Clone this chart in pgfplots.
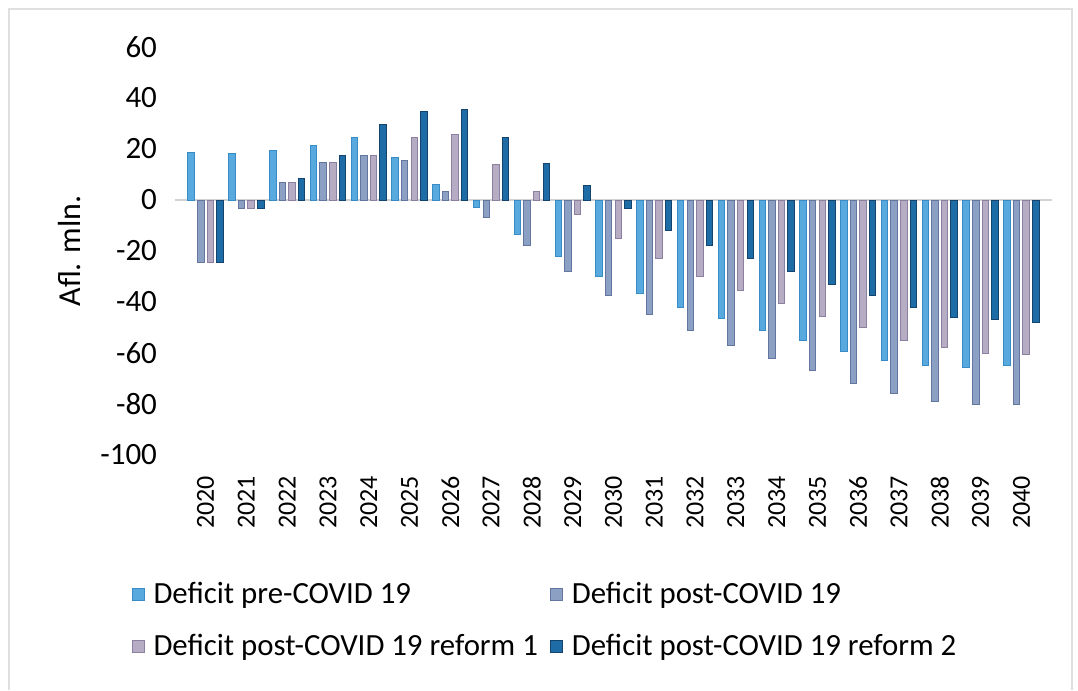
\documentclass[border=0pt]{standalone}
\usepackage{fontspec}
\setmainfont{Carlito}
\usepackage{pgfplots}
\pgfplotsset{compat=1.18}
\definecolor{preF}{RGB}{88,170,222}
\definecolor{preD}{RGB}{55,140,200}
\definecolor{postF}{RGB}{140,160,196}
\definecolor{postD}{RGB}{100,118,160}
\definecolor{roneF}{RGB}{182,172,196}
\definecolor{roneD}{RGB}{140,128,160}
\definecolor{rtwoF}{RGB}{30,108,165}
\definecolor{rtwoD}{RGB}{20,68,110}
\begin{document}
\begin{tikzpicture}
\begin{axis}[
  name=ax,
  width=438.5pt, height=204pt, scale only axis,
  ybar=1.55pt, bar width=3.25pt,
  xmin=-0.75, xmax=20.75, ymin=-100, ymax=60,
  ytick={-100,-80,...,60},
  xtick={0,...,20},
  xticklabels={2020,2021,2022,2023,2024,2025,2026,2027,2028,2029,2030,2031,2032,2033,2034,2035,2036,2037,2038,2039,2040},
  axis line style={draw=none},
  major tick length=0pt,
  /pgf/number format/assume math mode=true,
  yticklabel style={font=\fontsize{15.5}{18}\selectfont, xshift=-5.5pt},
  xticklabel style={font=\fontsize{13}{15}\selectfont, rotate=90, anchor=east, xshift=-7pt},
  ylabel={Afl. mln.},
  ylabel style={at={(axis description cs:-0.12,0.5)}, anchor=center, font=\fontsize{16}{18}\selectfont},
  extra y ticks={0}, extra y tick labels={},
  extra y tick style={grid=major, major grid style={draw=gray!35, line width=0.8pt}},
  legend columns=2,
  legend cell align=left,
  legend style={draw=none, at={(axis description cs:-0.05,-0.302)}, anchor=north west,
    font=\fontsize{15.4}{18}\selectfont, row sep=9.5pt, inner sep=0pt,
    /tikz/every odd column/.append style={column sep=2.5pt},
    /tikz/every even column/.append style={column sep=4pt}},
  legend image code/.code={\draw[#1] (0pt,-3pt) rectangle (6pt,3pt);},
]
\addplot[fill=preF, draw=preD, line width=0.5pt] coordinates {
(0,18.8)(1,18.3)(2,19.6)(3,21.5)(4,24.7)(5,16.5)(6,6)(7,-3)(8,-13.5)(9,-22)
(10,-30)(11,-36.5)(12,-42)(13,-46.5)(14,-51)(15,-55)(16,-59.5)(17,-63)(18,-65)(19,-65.5)(20,-65)};
\addplot[fill=postF, draw=postD, line width=0.5pt] coordinates {
(0,-24.5)(1,-3.5)(2,6.7)(3,14.7)(4,17.6)(5,15.3)(6,3.5)(7,-7)(8,-18)(9,-28)
(10,-37.5)(11,-45)(12,-51)(13,-57)(14,-62)(15,-67)(16,-72)(17,-76)(18,-79)(19,-80)(20,-80)};
\addplot[fill=roneF, draw=roneD, line width=0.5pt] coordinates {
(0,-24.5)(1,-3.5)(2,6.7)(3,14.7)(4,17.6)(5,24.7)(6,25.5)(7,14)(8,3.5)(9,-5.5)
(10,-15)(11,-23)(12,-30)(13,-35.5)(14,-40.5)(15,-45.5)(16,-50)(17,-55)(18,-58)(19,-60)(20,-60.5)};
\addplot[fill=rtwoF, draw=rtwoD, line width=0.5pt] coordinates {
(0,-24.5)(1,-3.5)(2,8.6)(3,17.6)(4,29.8)(5,34.9)(6,35.5)(7,24.5)(8,14.5)(9,5.5)
(10,-3.5)(11,-12)(12,-18)(13,-23)(14,-28)(15,-33)(16,-37.5)(17,-42)(18,-46)(19,-47)(20,-48)};
\legend{Deficit pre-COVID 19,Deficit post-COVID 19,Deficit post-COVID 19 reform 1,Deficit post-COVID 19 reform 2}
\end{axis}
\path ([shift={(-87.5pt,227.5pt)}]ax.south west) rectangle ([shift={(451.5pt,-117.5pt)}]ax.south west);
\draw[gray!25, line width=1pt] ([shift={(-83pt,-117.5pt)}]ax.south west) -- ([shift={(-83pt,223pt)}]ax.south west) -- ([shift={(448.5pt,223pt)}]ax.south west) -- ([shift={(448.5pt,-117.5pt)}]ax.south west);
\end{tikzpicture}
\end{document}
